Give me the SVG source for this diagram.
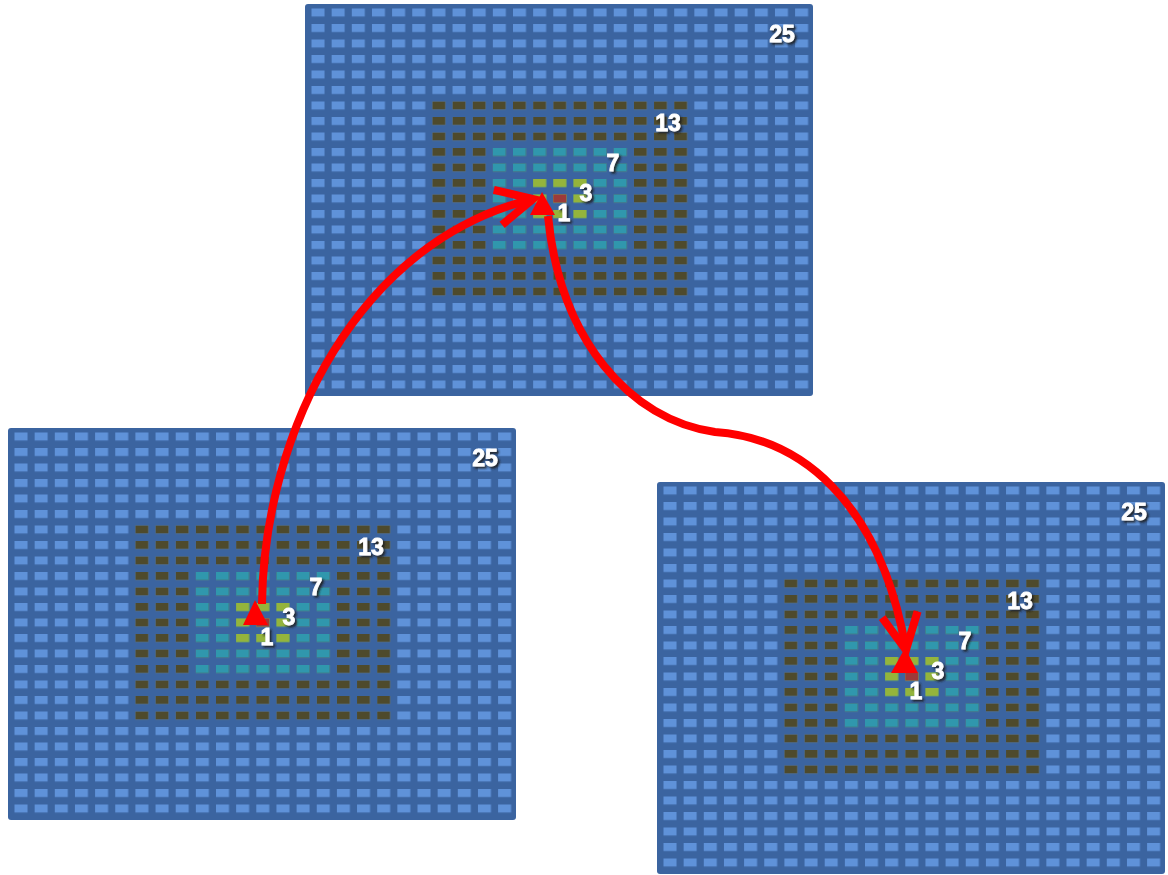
<svg xmlns="http://www.w3.org/2000/svg" xmlns:xlink="http://www.w3.org/1999/xlink" width="1168" height="875" viewBox="0 0 1168 875">
<style>
.bg{fill:#3b64a0;}
.lbl{font-family:"Liberation Sans",Arial,sans-serif;font-weight:bold;font-size:23px;fill:#ffffff;stroke:#ffffff;stroke-width:0.8;text-anchor:middle;filter:url(#sh);}
.tri{fill:#ff0000;}
.arr{fill:none;stroke:#ff0000;stroke-width:8;stroke-linecap:butt;marker-end:url(#chev);}
</style>
<defs>
<filter id="sh" x="-30%" y="-30%" width="170%" height="170%">
<feDropShadow dx="2" dy="2" stdDeviation="0.8" flood-color="#1a1a1a" flood-opacity="0.9"/>
</filter>
<pattern id="pBlue" patternUnits="userSpaceOnUse" x="6.5" y="4.5" width="20.15" height="15.5"><rect width="13" height="8" fill="#5f92d9"/></pattern>
<pattern id="pDark" patternUnits="userSpaceOnUse" x="6.5" y="4.5" width="20.15" height="15.5"><rect width="13" height="8" fill="#4e4a2c"/></pattern>
<pattern id="pTeal" patternUnits="userSpaceOnUse" x="6.5" y="4.5" width="20.15" height="15.5"><rect width="13" height="8" fill="#3097ad"/></pattern>
<pattern id="pYel" patternUnits="userSpaceOnUse" x="6.5" y="4.5" width="20.15" height="15.5"><rect width="13" height="8" fill="#94b43c"/></pattern>
<marker id="chev" markerUnits="userSpaceOnUse" orient="auto" refX="0" refY="0" markerWidth="90" markerHeight="90" viewBox="-45 -45 90 90" overflow="visible">
<path d="M -36 -18 L 0 0 L -36 18" fill="none" stroke="#ff0000" stroke-width="8" stroke-linejoin="miter"/>
</marker>
<g id="gridBody">
<rect class="bg" x="0" y="0" width="508" height="392" rx="3"/>
<rect x="0" y="0" width="508" height="392" fill="url(#pBlue)"/>
<rect x="124.4" y="94.5" width="260.8" height="200" fill="url(#pDark)"/>
<rect x="184.85" y="141" width="139.9" height="107" fill="url(#pTeal)"/>
<rect x="225.15" y="172" width="59.3" height="45" fill="url(#pYel)"/>
<rect x="248.3" y="190.5" width="13" height="8" fill="#9c3a3a"/>
</g>
</defs>

<g id="grid-left" transform="translate(8,428)">
<use xlink:href="#gridBody" href="#gridBody"/>
<text class="lbl" x="477" y="38">25</text>
<text class="lbl" x="363" y="127">13</text>
<text class="lbl" x="308" y="167">7</text>
<text class="lbl" x="281" y="197">3</text>
<text class="lbl" x="259" y="217">1</text>
</g>

<g id="grid-top" transform="translate(305,4)">
<use xlink:href="#gridBody" href="#gridBody"/>
<text class="lbl" x="477" y="38">25</text>
<text class="lbl" x="363" y="127">13</text>
<text class="lbl" x="308" y="167">7</text>
<text class="lbl" x="281" y="197">3</text>
<text class="lbl" x="259" y="217">1</text>
</g>

<g id="grid-right" transform="translate(657,482)">
<use xlink:href="#gridBody" href="#gridBody"/>
<text class="lbl" x="477" y="38">25</text>
<text class="lbl" x="363" y="127">13</text>
<text class="lbl" x="308" y="167">7</text>
<text class="lbl" x="281" y="197">3</text>
<text class="lbl" x="259" y="217">1</text>
</g>

<g id="markers">
<polygon id="tri-left" class="tri" points="255,600 268,625 243,625"/>
<polygon id="tri-top" class="tri" points="542,192 555,215 530,215"/>
<polygon id="tri-right" class="tri" points="905,648 918,673 891,673"/>
</g>

<g id="connectors">
<path class="arr" d="M 262 604 C 264 430, 360 240, 533 199"/>
<path class="arr" d="M 548 216 C 560 340, 630 420, 715 432 C 800 438, 880 500, 906 650"/>
</g>
</svg>
